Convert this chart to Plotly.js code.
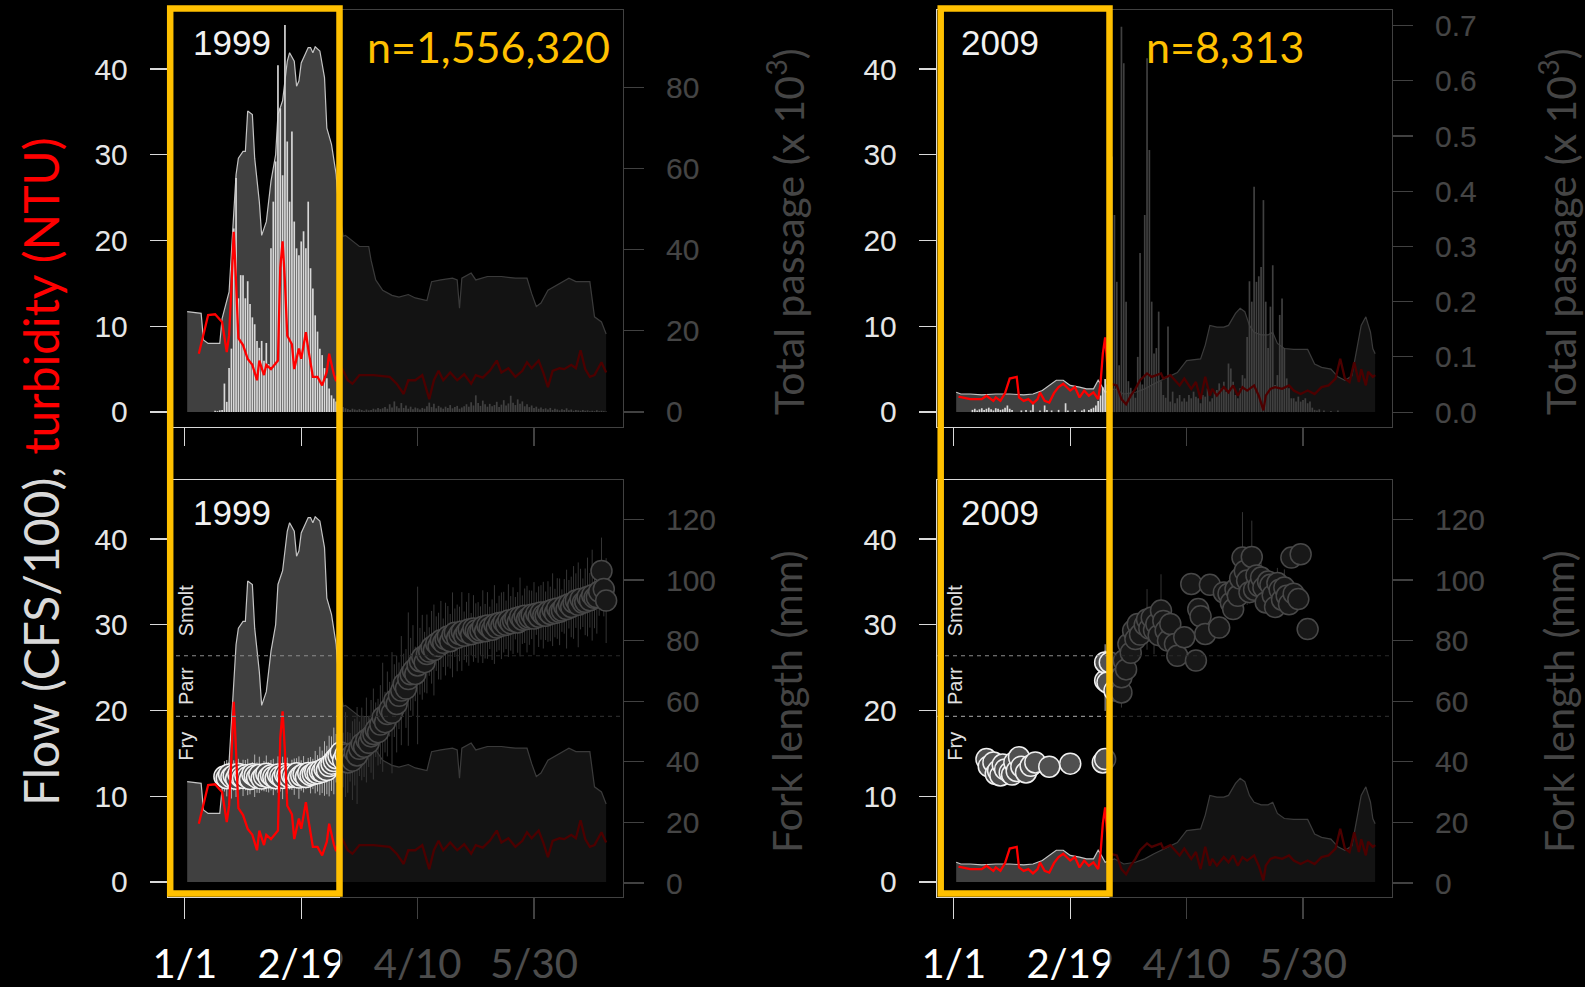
<!DOCTYPE html>
<html>
<head>
<meta charset="utf-8">
<script src="https://cdn.plot.ly/plotly-3.0.1.min.js"></script>
<style>
  html, body { margin: 0; padding: 0; background: #000; }
  #chart { width: 1585px; height: 987px; }
</style>
</head>
<body>
<div id="chart"></div>
<script>
// ---------------- data ----------------
// x = day index counted from 1 January
const DATE_TICKS  = [0, 50, 100, 150];
const DATE_LABELS = ['1/1', '2/19', '4/10', '5/30'];

const FLOW_TICKS   = [0, 10, 20, 30, 40];
const PASS99_TICKS = [0, 20, 40, 60, 80];
const PASS09_TICKS = [0, 0.1, 0.2, 0.3, 0.4, 0.5, 0.6, 0.7];
const FORK_TICKS   = [0, 20, 40, 60, 80, 100, 120];

// life-stage boundaries (fork length, mm) and label heights
const STAGE_BOUNDS = [55, 75];
const STAGE_NAMES  = ['Fry', 'Parr', 'Smolt'];
const STAGE_LABEL_AT = [45, 65, 90];

// 1999 flow (CFS/100)
const FLOW99_DAY = [1,7,8,10,15,16,19,20,22,23,25,26,27,29,30,32,33,35,37,39,40,42,44,45,47,48,49,50,53,54,55,56,58,60,61,63,64,65,66,68,69,72,75,79,80,82,85,89,92,96,99,104,106,110,115,117,118,119,123,125,130,136,142,147,149,151,153,156,160,165,168,171,174,176,179,181];
const FLOW99 = [11.7,11.5,8.4,8.0,8.0,10.9,14.0,19.1,27.7,29.6,30.4,30.4,35.1,34.7,29.6,24.5,20.6,22.2,26.9,30.0,34.7,36.3,40.9,41.9,40.9,38.0,38.6,40.7,42.5,42.5,41.9,42.6,42.1,39.0,33.1,31.2,29.2,27.7,24.0,20.5,20.6,19.9,19.3,19.3,17.7,15.4,14.2,13.6,13.4,13.7,13.3,13.0,15.2,15.4,15.6,15.4,12.1,15.6,16.2,15.4,15.8,15.8,15.6,15.6,13.8,12.3,12.7,14.2,14.8,15.6,15.2,15.2,15.2,11.1,10.5,9.1];

// 1999 turbidity (NTU)
const TURB99_DAY = [6,8,10,13,16,18,19,20,21,22,23,25,27,29,31,32,34,35,37,40,41,42,43,44,46,47,49,50,51,52,53,55,57,59,61,62,64,65,67,70,72,75,81,88,91,94,96,99,102,105,107,109,111,114,117,120,123,125,128,131,134,136,139,142,145,147,149,152,154,156,158,161,163,166,168,170,172,174,176,179,181];
const TURB99 = [6.8,8.9,11.3,11.4,10.5,7.0,8.9,14.4,21.0,15.2,8.6,7.8,6.2,5.5,3.7,6.0,4.3,5.5,5.0,6.0,16.8,19.9,15.2,8.9,7.9,5.0,7.4,6.2,8.0,9.3,7.4,4.1,4.1,3.1,4.7,6.8,4.4,3.6,5.4,3.7,3.3,4.3,4.3,4.1,3.3,2.1,3.7,3.7,4.3,1.5,3.7,4.8,3.7,4.6,3.7,4.4,3.3,4.3,4.0,4.8,6.0,4.6,5.1,4.1,4.8,5.8,5.1,6.0,4.6,2.9,4.8,5.1,5.0,5.5,5.1,7.2,5.0,4.1,4.3,5.8,4.6];

// 1999 daily total passage (x 1000), first value is day 13
const PASS99_START = 13;
const PASS99 = [
  0.3,0.2,0.4,0.5,7.0,2.5,10.8,15.6,
  45.2,57.6,28.0,33.7,33.7,28.0,32.2,26.6,23.3,21.6,
  17.5,15.8,17.5,12.6,17.0,11.8,40.3,51.8,61.7,85.4,
  74.8,58.3,95.3,66.6,51.8,69.1,46.9,40.3,38.6,42.0,
  44.5,40.3,51.8,35.4,30.4,23.8,19.8,15.6,14.0,10.8,
  8.3,5.8,4.1,3.3,
  2.6,3.0,1.8,1.2,0.9,0.7,
  0.5,0.8,0.6,0.4,0.7,0.5,0.3,0.6,0.4,0.5,
  0.8,0.6,1.0,0.7,0.9,1.2,0.8,1.9,1.1,2.6,
  1.4,0.9,2.2,1.0,1.6,0.8,1.3,0.7,1.1,0.9,
  0.6,1.0,0.8,1.4,2.3,1.2,2.0,0.9,1.5,1.1,
  0.8,1.3,1.0,1.7,0.9,1.2,1.5,0.8,1.1,1.4,
  1.9,1.3,2.4,1.6,4.1,2.2,1.5,2.8,1.9,1.3,
  2.0,1.4,1.7,2.5,1.2,1.8,2.9,1.6,2.1,4.0,
  2.3,1.7,3.1,2.0,2.6,1.4,1.9,1.2,1.6,1.0,
  1.3,0.8,1.1,0.7,0.9,0.6,1.0,0.5,0.8,0.6,
  0.4,0.7,0.5,0.9,0.4,0.6,0.3,0.5,0.4,0.3,
  0.5,0.3,0.4,0.2,0.3,0.2,0.4,0.2,0.3,0.2,0.1
];

// 1999 daily mean fork length (mm) and spread, first value is day 17
const FORK99_START = 17;
const FORK99 = [
  35.2,34.6,35.8,34.9,35.5,34.4,36.0,35.1,34.7,35.6,
  35.0,34.3,35.9,35.4,34.8,35.7,34.5,35.3,36.1,34.9,
  35.6,35.0,34.6,35.8,35.2,34.7,36.0,35.4,34.9,35.7,
  35.1,36.2,34.8,35.5,35.9,35.0,36.3,35.6,36.0,36.6,
  36.2,37.0,36.7,37.8,37.3,38.6,39.4,40.3,41.2,42.0,
  43.1,40.6,42.4,39.8,41.5,40.4,43.2,42.1,44.3,45.9,
  45.0,47.2,46.3,48.4,49.2,50.6,49.8,52.3,54.7,53.1,
  55.8,57.4,56.2,60.2,59.1,61.8,63.5,65.7,64.2,67.3,
  68.9,70.1,69.0,71.8,73.2,74.5,72.9,75.6,76.4,77.8,
  76.9,79.0,78.2,80.1,79.3,80.5,81.4,79.8,81.9,82.6,
  80.9,82.2,83.0,81.6,82.8,83.7,82.1,84.0,83.3,82.7,
  83.3,84.6,83.1,85.0,84.2,83.6,85.3,84.3,85.8,84.9,
  86.1,85.2,86.6,85.7,86.6,87.4,86.0,87.8,86.9,88.2,
  87.1,87.6,88.5,87.3,88.9,87.9,89.3,88.4,88.2,89.6,
  88.8,90.2,89.1,90.6,89.5,89.9,91.3,90.4,92.0,91.1,
  92.6,93.2,91.8,93.7,92.5,92.8,94.4,93.3,95.0,94.1,
  94.3,96.2,103.0,97.0,93.2
];
const FORK99_SD = [
  5,6,4,7,5,6,5,4,6,5,
  6,5,4,7,5,6,4,5,6,5,
  5,6,4,6,5,7,5,6,4,5,
  6,5,7,5,6,4,5,6,5,7,
  6,8,7,9,8,10,9,11,8,10,
  12,9,14,10,8,13,11,16,9,12,
  10,14,8,12,15,9,11,13,18,10,
  14,9,20,12,16,11,18,10,13,22,
  12,15,9,26,11,14,10,13,8,12,
  15,9,11,13,8,12,10,9,14,8,
  11,9,13,8,10,12,7,11,9,10,
  8,12,9,11,7,10,13,8,9,11,
  10,8,12,9,11,7,10,13,8,9,
  11,9,8,12,7,10,9,11,8,10,
  9,12,8,10,11,7,9,13,8,10,
  12,9,14,10,8,11,13,9,15,10,
  12,8,11,9,14
];

// 2009 flow (CFS/100)
const FLOW09_DAY = [1,3,7,12,18,24,30,34,38,41,44,47,50,54,57,60,62,63,65,69,73,78,82,86,92,96,100,106,108,110,113,116,118,121,123,125,127,129,132,135,137,139,142,146,152,155,158,162,165,168,171,173,175,177,179,180,181];
const FLOW09 = [2.3,2.1,2.1,2.0,2.1,2.1,2.0,2.1,2.5,3.1,3.7,3.7,3.1,2.9,2.7,2.7,3.7,3.3,2.3,2.7,2.1,2.3,2.7,3.3,4.1,4.6,6.0,6.2,7.8,10.1,9.9,9.9,10.1,11.5,12.1,11.7,10.1,9.3,9.0,9.0,9.3,8.0,7.4,7.3,7.3,5.6,5.2,5.0,4.1,3.7,4.2,7.0,10.1,11.1,9.3,7.4,6.8];

// 2009 turbidity (NTU)
const TURB09_DAY = [2,7,12,14,17,18,20,22,24,27,28,30,32,34,36,37,39,41,43,45,47,50,52,54,56,58,60,62,63,64,65,66,67,70,72,74,76,78,80,83,85,87,89,90,93,95,97,99,102,104,106,108,110,111,113,116,118,120,122,124,126,129,131,133,134,136,138,141,144,146,149,152,155,158,161,164,166,168,170,172,174,175,177,178,180,181];
const TURB09 = [1.8,1.5,1.5,1.9,1.3,1.7,1.3,2.2,3.9,4.1,1.7,1.3,1.5,1.0,1.5,2.3,1.3,1.1,2.2,2.9,3.3,2.5,2.9,1.7,2.5,1.9,2.3,1.5,3.3,6.8,8.7,5.3,3.3,3.1,1.5,0.9,1.9,2.7,3.7,4.5,4.1,4.3,4.5,3.9,4.3,3.7,3.1,3.9,2.7,3.5,1.5,4.1,1.9,2.7,1.9,2.9,2.3,3.1,1.9,2.9,2.5,3.1,1.9,0.2,1.9,2.7,2.9,2.7,3.1,2.5,2.1,2.5,2.1,2.9,3.1,3.9,6.2,3.9,3.5,5.8,3.5,5.0,3.1,4.7,4.1,4.3];

// 2009 daily total passage (x 1000), first value is day 1
const PASS09_START = 1;
const PASS09 = [
  0,0,0,0,0,0,0,0.004,0.006,0.003,
  0.005,0.007,0.004,0.006,0.008,0.005,0.003,0.007,0.006,0.004,
  0.005,0.008,0.012,0.006,0.004,0,0,0,0.003,0,
  0.004,0,0.003,0.014,0,0,0.003,0,0.012,0.004,
  0,0.003,0,0,0.004,0,0,0.016,0.003,0,
  0,0.004,0,0,0.003,0.005,0,0.004,0.006,0.008,
  0.012,0.02,0.03,0.045,0.06,0.05,0.06,0.463,0.357,0.236,
  0.085,0.698,0.632,0.2,0.056,0.044,0.038,0.026,0.1,0.288,
  0.05,0.357,0.641,0.475,0.2,0.106,0.116,0.182,0.056,0.031,
  0.026,0.155,0.019,0.037,0.016,0.025,0.031,0.019,0.025,0.019,
  0.031,0.025,0.037,0.028,0.025,0.016,0.031,0.028,0.043,0.019,
  0.025,0.037,0.04,0.052,0.043,0.055,0.037,0.088,0.079,0.055,
  0.031,0.025,0.043,0.067,0.061,0.136,0.237,0.2,0.408,0.236,
  0.246,0.263,0.384,0.2,0.116,0.191,0.266,0.049,0.067,0.176,
  0.206,0.116,0.061,0.043,0.025,0.025,0.019,0.028,0.019,0.022,
  0.025,0.016,0.019,0.008,0.004,0.003,0.005,0,0.003,0,
  0,0.002,0,0,0.003,0,0,0,0,0,
  0,0,0,0,0,0,0,0,0,0,0
];

// 2009 fork length samples (mm)
const FORK09_DAY = [14,15,17,18,19,20,21,22,24,25,26,27,28,29,31,33,35,41,50,64,65,65,65,66,67,69,71,72,72,73,74,75,76,77,78,79,80,82,83,84,85,86,87,88,89,90,91,92,93,95,96,99,102,104,105,106,108,110,114,116,118,119,120,121,122,123,124,125,126,127,128,129,130,131,132,133,134,135,136,137,138,139,140,141,142,143,144,145,146,148,149,152];
const FORK09 = [40.9,38.5,39.8,36.0,37.1,35.5,39.1,37.5,36.5,35.8,39.8,37.0,41.5,38.4,36.5,38.7,39.8,38.4,39.4,39.8,40.9,66.8,72.8,66.2,72.8,63.5,67.5,62.9,67.9,73.4,70.5,78.9,76.0,83.3,80.5,85.5,82.0,85.2,87.0,84.0,87.6,83.5,85.5,81.8,89.9,86.5,83.3,80.0,85.5,78.9,75.0,81.1,98.7,73.4,90.4,88.0,82.2,98.4,84.3,95.9,95.5,92.5,90.4,97.0,94.8,100.5,107.4,103.0,99.8,96.0,107.6,96.8,101.5,98.0,100.8,97.5,92.6,99.5,98.4,95.0,91.1,99.0,96.8,93.5,97.5,94.8,92.0,107.4,95.5,93.7,108.5,83.8];
const FORK09_SD = [0,0,0,0,0,0,0,0,0,0, 0,0,0,0,0,0,0,0,0,0, 0,10,6,0,8,0,0,5,0,6, 0,8,0,5,4,0,7,0,10,0, 0,8,0,0,12,0,0,0,0,0, 0,0,0,0,0,4,0,0,0,0, 0,0,0,6,0,5,15,0,8,0, 12,0,6,0,5,0,0,4,0,7, 0,5,0,0,6,0,0,0,0,0, 0,0];

const YEARS = ['1999', '2009'];
const COUNTS = ['n=1,556,320', 'n=8,313'];

// ---------------- geometry & style ----------------
const W = 1585, H = 987;
const px = v => v / W;
const py = v => 1 - v / H;

const COL_L = { l: 168, r: 623 };
const COL_R = { l: 937, r: 1392 };
const ROW_T = { t: 10, b: 427 };
const ROW_B = { t: 480, b: 897 };

const X_RANGE      = [-7.24, 188.24];
const FLOW_RANGE   = [-1.75, 46.88];
const PASS99_RANGE = [-3.7, 99.0];
const PASS09_RANGE = [-0.027, 0.7284];
const FORK_RANGE   = [-4.6, 133.0];

const AX_COL     = '#d9d9d9';
const FLOW_FILL  = '#404040';
const FLOW_LINE  = '#c4c4c4';
const BAR_COL    = '#d8d8d8';
const TURB_COL   = '#ff0000';
const DOT_FILL   = '#505050';
const DOT_EDGE   = '#f0f0f0';
const ERR_COL    = '#b0b0b0';
const STAGE_LINE = '#8a8a8a';
const HIGHLIGHT  = '#FFC000';
const DIM        = 'rgba(0,0,0,0.70)';

const TICK_FONT = { family: 'Liberation Sans, Arial, sans-serif', size: 30, color: '#e6e6e6' };

const seq = (start, arr) => arr.map((_, i) => start + i);

function xAx(col, anchor, labels) {
  return {
    domain: [px(col.l), px(col.r)], anchor: anchor, range: X_RANGE,
    tickvals: DATE_TICKS, ticktext: DATE_LABELS, showticklabels: labels,
    ticks: 'outside', ticklen: labels ? 21 : 18, tickwidth: 1.2, tickcolor: AX_COL,
    showline: true, mirror: true, linecolor: AX_COL, linewidth: 1.2,
    tickfont: { family: 'Lato, sans-serif', size: 40, color: '#ffffff' },
    ticklabelstandoff: 11,
    showgrid: false, zeroline: false, fixedrange: true
  };
}
function flowAx(row, anchor) {
  return {
    domain: [py(row.b), py(row.t)], anchor: anchor, range: FLOW_RANGE,
    tickvals: FLOW_TICKS, ticks: 'outside', ticklen: 17, tickwidth: 1.2, tickcolor: AX_COL,
    showline: true, mirror: true, linecolor: AX_COL, linewidth: 1.2,
    tickfont: TICK_FONT, ticklabelstandoff: 16,
    showgrid: false, zeroline: false, fixedrange: true
  };
}
function sideAx(base, anchor, range, ticks, fmt) {
  return {
    overlaying: base, side: 'right', anchor: anchor, range: range,
    tickvals: ticks, tickformat: fmt || '', ticks: 'outside', ticklen: 20, tickwidth: 1.2, tickcolor: AX_COL,
    showline: false, tickfont: TICK_FONT, ticklabelstandoff: 16,
    showgrid: false, zeroline: false, fixedrange: true
  };
}
function hiddenAx(base, anchor) {
  return { overlaying: base, anchor: anchor, range: FLOW_RANGE, visible: false, fixedrange: true };
}

// ---------------- traces ----------------
function flowTrace(x, y, xa, ya) {
  return { type: 'scatter', mode: 'lines', x: x, y: y, xaxis: xa, yaxis: ya,
           fill: 'tozeroy', fillcolor: FLOW_FILL, line: { color: FLOW_LINE, width: 1.2 }, hoverinfo: 'skip' };
}
function turbTrace(x, y, xa, ya) {
  return { type: 'scatter', mode: 'lines', x: x, y: y, xaxis: xa, yaxis: ya,
           line: { color: TURB_COL, width: 2.3 }, hoverinfo: 'skip' };
}
function passTrace(start, arr, xa, ya) {
  return { type: 'bar', x: seq(start, arr), y: arr, xaxis: xa, yaxis: ya, width: 0.72,
           marker: { color: BAR_COL, line: { width: 0 } }, hoverinfo: 'skip' };
}
function forkTrace(x, y, sd, xa, ya) {
  return { type: 'scatter', mode: 'markers', x: x, y: y, xaxis: xa, yaxis: ya,
           marker: { size: 21, color: DOT_FILL, line: { color: DOT_EDGE, width: 1.5 } },
           error_y: { type: 'data', array: sd, visible: true, color: ERR_COL, thickness: 1, width: 0 },
           hoverinfo: 'skip' };
}

const data = [
  // 1999, passage
  flowTrace(FLOW99_DAY, FLOW99, 'x', 'y'),
  passTrace(PASS99_START, PASS99, 'x', 'y2'),
  turbTrace(TURB99_DAY, TURB99, 'x', 'y3'),
  // 2009, passage
  flowTrace(FLOW09_DAY, FLOW09, 'x2', 'y4'),
  passTrace(PASS09_START, PASS09, 'x2', 'y5'),
  turbTrace(TURB09_DAY, TURB09, 'x2', 'y6'),
  // 1999, fork length
  flowTrace(FLOW99_DAY, FLOW99, 'x3', 'y7'),
  forkTrace(seq(FORK99_START, FORK99), FORK99, FORK99_SD, 'x3', 'y8'),
  turbTrace(TURB99_DAY, TURB99, 'x3', 'y9'),
  // 2009, fork length
  flowTrace(FLOW09_DAY, FLOW09, 'x4', 'y10'),
  forkTrace(FORK09_DAY, FORK09, FORK09_SD, 'x4', 'y11'),
  turbTrace(TURB09_DAY, TURB09, 'x4', 'y12')
];

// ---------------- shapes ----------------
const shapes = [];
[['x3', 'y8'], ['x4', 'y11']].forEach(([xa, ya]) => {
  STAGE_BOUNDS.forEach(b => shapes.push({
    type: 'line', xref: xa + ' domain', yref: ya, x0: 0, x1: 1, y0: b, y1: b,
    line: { color: STAGE_LINE, width: 1.2, dash: '4px,4px' }, layer: 'above'
  }));
});
// dim everything after the highlighted early season
shapes.push({ type: 'rect', xref: 'paper', yref: 'paper', x0: px(340), x1: px(845), y0: 0, y1: 1,
              fillcolor: DIM, line: { width: 0 }, layer: 'above' });
shapes.push({ type: 'rect', xref: 'paper', yref: 'paper', x0: px(1109.5), x1: 1, y0: 0, y1: 1,
              fillcolor: DIM, line: { width: 0 }, layer: 'above' });
// highlight frames
[[170.2, 339.5], [940.7, 1109.5]].forEach(([a, b]) => shapes.push({
  type: 'rect', xref: 'paper', yref: 'paper', x0: px(a), x1: px(b), y0: py(893.6), y1: py(8.4),
  line: { color: HIGHLIGHT, width: 6.5 }, fillcolor: 'rgba(0,0,0,0)', layer: 'above'
}));

// ---------------- annotations ----------------
const ann = [];
function note(text, x, y, font, extra) {
  ann.push(Object.assign({ text: text, x: px(x), y: py(y), xref: 'paper', yref: 'paper',
    showarrow: false, xanchor: 'center', yanchor: 'middle', font: font }, extra || {}));
}
const yearFont  = { family: 'Liberation Sans, Arial, sans-serif', size: 35, color: '#f2f2f2' };
const countFont = { family: 'Lato, sans-serif', size: 43, color: HIGHLIGHT };
note(YEARS[0], 231.7, 42.5, yearFont);
note(YEARS[0], 231.7, 512, yearFont);
note(YEARS[1], 1000, 42.5, yearFont);
note(YEARS[1], 1000, 512, yearFont);
note(COUNTS[0], 488.8, 46.7, countFont);
note(COUNTS[1], 1224.7, 46.7, countFont);

note('Flow (CFS/100), <span style="color:#ff0000">turbidity (NTU)</span>', 40, 472,
     { family: 'Lato, sans-serif', size: 48, color: '#d9d9d9' }, { textangle: -90 });
const sideTitle = { family: 'Lato, sans-serif', size: 41, color: '#454545' };
[786, 1558].forEach(x => {
  note('Total passage (x 10<sup>3</sup>)', x, 232, sideTitle, { textangle: -90 });
  note('Fork length (mm)', x, 702, sideTitle, { textangle: -90 });
});

[['x3', 'y8', 186], ['x4', 'y11', 955]].forEach(([xa, ya, xp]) => {
  STAGE_NAMES.forEach((s, i) => ann.push({
    text: s, xref: 'paper', yref: ya, x: px(xp), y: STAGE_LABEL_AT[i], showarrow: false,
    textangle: -90, xanchor: 'center', yanchor: 'middle',
    font: { family: 'Liberation Sans, Arial, sans-serif', size: 20, color: '#e0e0e0' }
  }));
});

const layout = {
  width: W, height: H,
  margin: { l: 0, r: 0, t: 0, b: 0, pad: 0 },
  paper_bgcolor: '#000', plot_bgcolor: '#000',
  showlegend: false, hovermode: false,
  xaxis:  xAx(COL_L, 'y', false),
  xaxis2: xAx(COL_R, 'y4', false),
  xaxis3: xAx(COL_L, 'y7', true),
  xaxis4: xAx(COL_R, 'y10', true),
  yaxis:   flowAx(ROW_T, 'x'),
  yaxis2:  sideAx('y', 'x', PASS99_RANGE, PASS99_TICKS),
  yaxis3:  hiddenAx('y', 'x'),
  yaxis4:  flowAx(ROW_T, 'x2'),
  yaxis5:  sideAx('y4', 'x2', PASS09_RANGE, PASS09_TICKS, '.1f'),
  yaxis6:  hiddenAx('y4', 'x2'),
  yaxis7:  flowAx(ROW_B, 'x3'),
  yaxis8:  sideAx('y7', 'x3', FORK_RANGE, FORK_TICKS),
  yaxis9:  hiddenAx('y7', 'x3'),
  yaxis10: flowAx(ROW_B, 'x4'),
  yaxis11: sideAx('y10', 'x4', FORK_RANGE, FORK_TICKS),
  yaxis12: hiddenAx('y10', 'x4'),
  shapes: shapes,
  annotations: ann
};

Plotly.newPlot('chart', data, layout, { staticPlot: true, displayModeBar: false });
</script>
</body>
</html>
